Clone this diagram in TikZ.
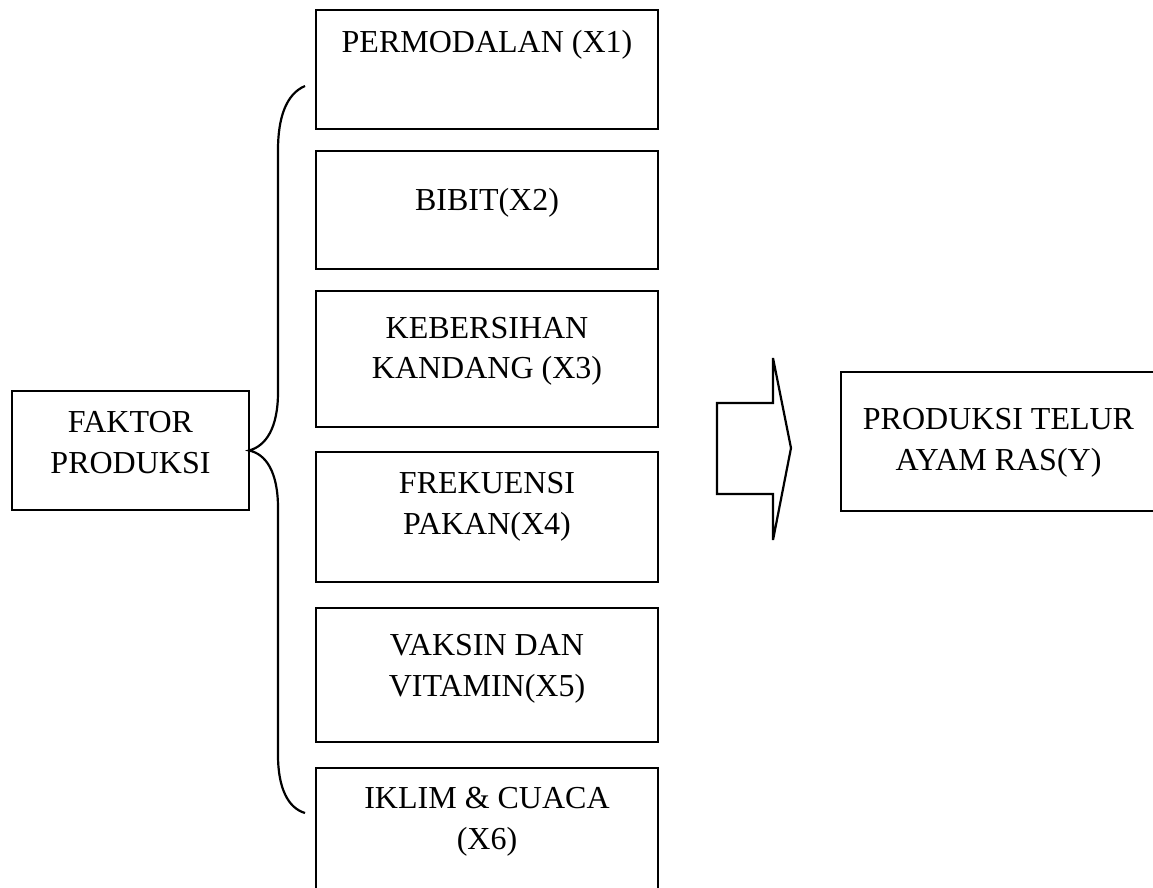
\documentclass[tikz,border=0pt]{standalone}
\usepackage{fontspec}
\setmainfont{Liberation Serif}
\begin{document}
\begin{tikzpicture}[x=1pt,y=-1pt,
  box/.style={draw=black,line width=2.2pt,rectangle,inner sep=0pt,outer sep=0pt},
  lbl/.style={anchor=base,inner sep=0pt,font=\fontsize{32}{40}\selectfont},
  ln/.style={line width=2.2pt,line join=miter}]
\useasboundingbox (0,0) rectangle (1153,888);
% boxes
\node[box,minimum width=237pt,minimum height=119pt] (fak) at (130.5,450.5) {};
\node[box,minimum width=342pt,minimum height=119pt] (x1) at (487,69.5) {};
\node[box,minimum width=342pt,minimum height=118pt] (x2) at (487,210) {};
\node[box,minimum width=342pt,minimum height=136pt] (x3) at (487,359) {};
\node[box,minimum width=342pt,minimum height=130pt] (x4) at (487,517) {};
\node[box,minimum width=342pt,minimum height=134pt] (x5) at (487,675) {};
\node[box,minimum width=342pt,minimum height=134pt] (x6) at (487,835) {};
\node[box,minimum width=315pt,minimum height=139pt] (yy) at (998.5,441.5) {};
% texts
\node[lbl] (tf1) at (130.5,432) {FAKTOR};
\node[lbl] (tf2) at (130.5,473) {PRODUKSI};
\node[lbl] (t1) at (487,53) {PERMODALAN (X1)};
\node[lbl] (t2) at (487,210) {BIBIT(X2)};
\node[lbl] (t3a) at (487,338) {KEBERSIHAN};
\node[lbl] (t3b) at (487,378) {KANDANG (X3)};
\node[lbl] (t4a) at (487,493) {FREKUENSI};
\node[lbl] (t4b) at (487,534) {PAKAN(X4)};
\node[lbl] (t5a) at (487,655) {VAKSIN DAN};
\node[lbl] (t5b) at (487,696) {VITAMIN(X5)};
\node[lbl] (t6a) at (487,808) {IKLIM \& CUACA};
\node[lbl] (t6b) at (487,849) {(X6)};
\node[lbl] (ty1) at (998.5,429) {PRODUKSI TELUR};
\node[lbl] (ty2) at (998.5,470) {AYAM RAS(Y)};
% brace
\coordinate (btop) at (305,86);
\coordinate (bbot) at (305,813);
\coordinate (tip) at (fak.east);
\draw[ln] (btop) .. controls (286,94) and (278,118) .. (278,150)
  -- (278,392) .. controls (278,428) and (266,446) .. (tip)
  .. controls (266,454) and (278,472) .. (278,508)
  -- (278,755) .. controls (278,788) and (288,808) .. (bbot);
% block arrow
\coordinate (a1) at (717,403);
\coordinate (a2) at (773,403);
\coordinate (a3) at (773,358);
\coordinate (a4) at (791,448);
\coordinate (a5) at (773,540);
\coordinate (a6) at (773,494);
\coordinate (a7) at (717,494);
\draw[ln] (a1) -- (a2) -- (a3) -- (a4) -- (a5) -- (a6) -- (a7) -- cycle;
\end{tikzpicture}
\end{document}
